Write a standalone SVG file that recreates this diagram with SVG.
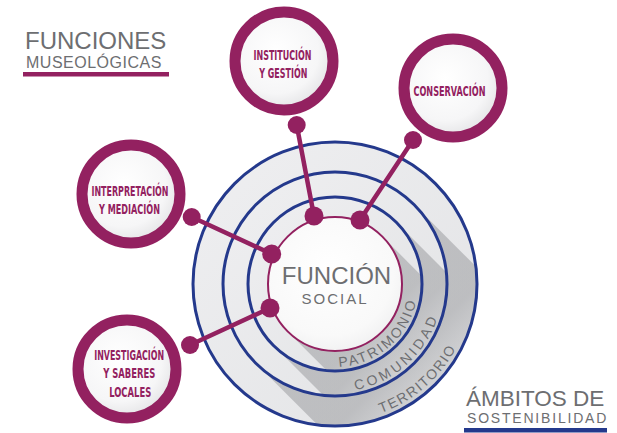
<svg xmlns="http://www.w3.org/2000/svg" width="617" height="433" viewBox="0 0 617 433">
<defs>
<style>
.ring{fill:url(#nodeFill);stroke:#932160;stroke-width:11}
.ntext{font-family:"Liberation Sans Narrow","DejaVu Sans Condensed","DejaVu Sans",sans-serif;font-stretch:condensed;font-weight:bold;font-size:14.5px;fill:#932160;text-anchor:middle}
.gtext{font-family:"Liberation Sans",Arial,sans-serif;fill:#6d6e71}
.blue{fill:none;stroke:#24398c;stroke-width:3}
.conn{stroke:#932160;stroke-width:4.5;stroke-linecap:round;fill:none}
.dot{fill:#932160}
.arc{font-family:"Liberation Sans",Arial,sans-serif;font-size:14px;fill:#6d6e71}
.band{fill:url(#band)}
</style>
<radialGradient id="nodeFill" cx="0.42" cy="0.4" r="0.62">
<stop offset="0" stop-color="#ffffff"/>
<stop offset="0.7" stop-color="#f6f6f7"/>
<stop offset="1" stop-color="#e3e3e5"/>
</radialGradient>
<radialGradient id="innerFill" cx="0.45" cy="0.4" r="0.65">
<stop offset="0" stop-color="#ffffff"/>
<stop offset="0.75" stop-color="#f9f9f9"/>
<stop offset="1" stop-color="#efeff0"/>
</radialGradient>
<linearGradient id="band" x1="0" y1="0" x2="1" y2="1">
<stop offset="0" stop-color="#efeff1"/>
<stop offset="1" stop-color="#e2e3e5"/>
</linearGradient>
<linearGradient id="sh67" gradientUnits="userSpaceOnUse" x1="375.3" y1="324.3" x2="424.8" y2="373.8">
<stop offset="0" stop-color="#9c9da0" stop-opacity="0.55"/>
<stop offset="1" stop-color="#9c9da0" stop-opacity="0"/>
</linearGradient>
<linearGradient id="sh87" gradientUnits="userSpaceOnUse" x1="389" y1="338" x2="440" y2="389">
<stop offset="0" stop-color="#9c9da0" stop-opacity="0.55"/>
<stop offset="1" stop-color="#9c9da0" stop-opacity="0"/>
</linearGradient>
<linearGradient id="sh112" gradientUnits="userSpaceOnUse" x1="407" y1="356" x2="460" y2="409">
<stop offset="0" stop-color="#9c9da0" stop-opacity="0.55"/>
<stop offset="1" stop-color="#9c9da0" stop-opacity="0"/>
</linearGradient>
<clipPath id="c142"><circle cx="335" cy="284" r="142"/></clipPath>
<clipPath id="c112"><circle cx="335" cy="284" r="112"/></clipPath>
<clipPath id="c87"><circle cx="335" cy="284" r="87"/></clipPath>
<path id="arcP" d="M282.77,348.5 A83,83 0 0 0 406.15,241.25"/>
<path id="arcC" d="M268.51,369.1 A108,108 0 0 0 426.58,226.77"/>
<path id="arcT" d="M248.79,390.46 A137,137 0 0 0 452.44,213.44"/>
</defs>

<g id="titulo-funciones">
<text class="gtext" x="25" y="49" font-size="24">FUNCIONES</text>
<text class="gtext" x="26" y="68" font-size="16" letter-spacing="0.5">MUSEOLÓGICAS</text>
<rect x="23" y="72" width="146" height="4.5" fill="#932160"/>
</g>

<g id="titulo-ambitos">
<text class="gtext" x="466" y="406" font-size="22.5">ÁMBITOS DE</text>
<text class="gtext" x="467" y="423" font-size="14" letter-spacing="1.8">SOSTENIBILIDAD</text>
<rect x="464" y="428" width="143" height="4.5" fill="#24398c"/>
</g>

<g id="ambitos">
<circle class="band" cx="335" cy="284" r="142"/>
<path d="M414.2,204.8 L569.8,360.4 L411.4,518.8 L255.8,363.2Z" fill="url(#sh112)" clip-path="url(#c142)"/>
<circle class="band" cx="335" cy="284" r="112"/>
<path d="M396.5,222.5 L552.1,378.1 L429.1,501.1 L273.5,345.5Z" fill="url(#sh87)" clip-path="url(#c112)"/>
<circle class="band" cx="335" cy="284" r="87"/>
<path d="M382.4,236.6 L538,392.2 L443.2,487 L287.6,331.4Z" fill="url(#sh67)" clip-path="url(#c87)"/>
<circle class="blue" cx="335" cy="284" r="142"/>
<circle class="blue" cx="335" cy="284" r="112"/>
<circle class="blue" cx="335" cy="284" r="87"/>
<text class="arc" letter-spacing="2.4"><textPath href="#arcP" startOffset="50%" text-anchor="middle">PATRIMONIO</textPath></text>
<text class="arc" letter-spacing="3.4"><textPath href="#arcC" startOffset="50%" text-anchor="middle">COMUNIDAD</textPath></text>
<text class="arc" letter-spacing="1.6"><textPath href="#arcT" startOffset="50%" text-anchor="middle">TERRITORIO</textPath></text>
</g>

<g id="funcion-social">
<circle cx="335" cy="284" r="67" fill="url(#innerFill)" stroke="#932160" stroke-width="2"/>
<text class="gtext" x="336.5" y="284" font-size="24" text-anchor="middle">FUNCIÓN</text>
<text class="gtext" x="335" y="304" font-size="15" letter-spacing="2" text-anchor="middle">SOCIAL</text>
</g>

<g id="connectors">
<line class="conn" x1="296.7" y1="125" x2="314" y2="216"/>
<line class="conn" x1="413" y1="140" x2="360" y2="220"/>
<line class="conn" x1="191.7" y1="217" x2="271.7" y2="254"/>
<line class="conn" x1="190" y1="345" x2="270" y2="308"/>
<circle class="dot" cx="296.7" cy="125" r="9"/>
<circle class="dot" cx="413" cy="140" r="9"/>
<circle class="dot" cx="191.7" cy="217" r="9"/>
<circle class="dot" cx="190" cy="345" r="9"/>
<circle class="dot" cx="314" cy="216" r="9.5"/>
<circle class="dot" cx="360" cy="220" r="9.5"/>
<circle class="dot" cx="271.7" cy="254" r="9.5"/>
<circle class="dot" cx="270" cy="308" r="9.5"/>
</g>

<g id="institucion">
<circle class="ring" cx="284" cy="61" r="49"/>
<text class="ntext" x="282.5" y="60" textLength="58" lengthAdjust="spacingAndGlyphs">INSTITUCIÓN</text>
<text class="ntext" x="283.3" y="78" textLength="48" lengthAdjust="spacingAndGlyphs">Y GESTIÓN</text>
</g>

<g id="conservacion">
<circle class="ring" cx="453" cy="88" r="49"/>
<text class="ntext" x="449.5" y="95.5" textLength="72" lengthAdjust="spacingAndGlyphs">CONSERVACIÓN</text>
</g>

<g id="interpretacion">
<circle class="ring" cx="131" cy="194" r="49"/>
<text class="ntext" x="130" y="196" textLength="77" lengthAdjust="spacingAndGlyphs">INTERPRETACIÓN</text>
<text class="ntext" x="129.5" y="214" textLength="61" lengthAdjust="spacingAndGlyphs">Y MEDIACIÓN</text>
</g>

<g id="investigacion">
<circle class="ring" cx="127" cy="369" r="49"/>
<text class="ntext" x="129.2" y="360" textLength="70" lengthAdjust="spacingAndGlyphs">INVESTIGACIÓN</text>
<text class="ntext" x="129.2" y="378" textLength="52" lengthAdjust="spacingAndGlyphs">Y SABERES</text>
<text class="ntext" x="130.2" y="397" textLength="42" lengthAdjust="spacingAndGlyphs">LOCALES</text>
</g>
</svg>
